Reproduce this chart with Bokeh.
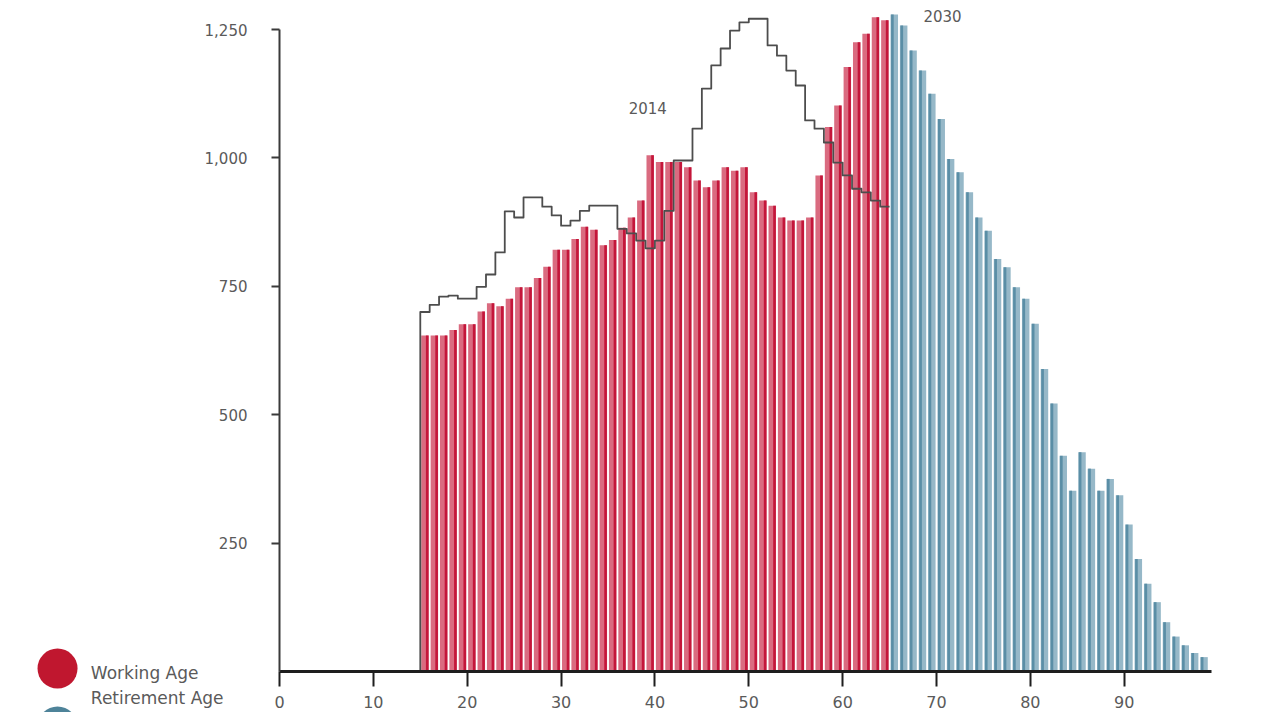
from bokeh.plotting import figure
from bokeh.models import Range1d, FixedTicker, NumeralTickFormatter, ColumnDataSource
from bokeh.core.properties import value
from bokeh.embed import file_html
from bokeh.resources import INLINE

# ---- data (thousands of people by single year of age) ----
ages = list(range(15, 99))
pop_2030 = [654, 654, 654, 665, 676, 676, 701, 717, 711, 726,
            748, 748, 766, 788, 821, 821, 842, 866, 860, 830,
            840, 864, 884, 917, 1005, 992, 992, 992, 982, 956,
            943, 956, 982, 975, 982, 933, 917, 907, 884, 878,
            878, 884, 966, 1060, 1102, 1177, 1225, 1242, 1274, 1268,
            1279, 1258, 1209, 1170, 1125, 1076, 998, 972, 933, 884,
            858, 803, 787, 748, 726, 677, 589, 522, 420, 352,
            427, 395, 352, 375, 343, 286, 219, 171, 135, 96,
            68, 51, 36, 28]
ages_2014 = list(range(15, 65))
pop_2014 = [700, 714, 730, 732, 726, 726, 749, 773, 816, 896,
            884, 923, 923, 905, 888, 868, 878, 897, 907, 907,
            907, 862, 853, 839, 824, 839, 897, 995, 995, 1057,
            1135, 1180, 1213, 1248, 1264, 1271, 1271, 1219, 1199, 1170,
            1141, 1073, 1057, 1030, 991, 966, 940, 933, 917, 905]
retirement_age = 65
x_ticks = [0, 10, 20, 30, 40, 50, 60, 70, 80, 90]
y_ticks = [250, 500, 750, 1000, 1250]
legend_labels = ["Working Age", "Retirement Age"]
year_labels = ["2014", "2030"]

RED_MID, RED_DARK = "#da6b80", "#c4163a"
BLUE_MID, BLUE_DARK = "#96b8c8", "#5a8ea6"
FONT = "DejaVu Sans"
TXT = "#5a5a5a"

p = figure(width=1264, height=712, output_backend="svg", toolbar_location=None,
           x_range=Range1d(-29.725, 104.944), y_range=Range1d(-79.83, 1306.5),
           min_border_left=0, min_border_right=0, min_border_top=0, min_border_bottom=0)
p.outline_line_color = None
p.xgrid.visible = False
p.ygrid.visible = False
p.background_fill_color = "white"
p.border_fill_color = "white"

work = [a for a in ages if a < retirement_age]
retire = [a for a in ages if a >= retirement_age]
work_v = [v for a, v in zip(ages, pop_2030) if a < retirement_age]
retire_v = [v for a, v in zip(ages, pop_2030) if a >= retirement_age]

src_w = ColumnDataSource(dict(x=[a + 0.5 for a in work], s=[a + 0.74 for a in work], top=work_v))
src_r = ColumnDataSource(dict(x=[a + 0.5 for a in retire], s=[a + 0.3 for a in retire], top=retire_v))

p.vbar(x="x", top="top", width=0.8, bottom=0, source=src_w, fill_color=RED_MID, line_color=None)
p.vbar(x="s", top="top", width=0.28, bottom=0, source=src_w, fill_color=RED_DARK, line_color=None)
p.vbar(x="x", top="top", width=0.8, bottom=0, source=src_r, fill_color=BLUE_MID, line_color=None)
p.vbar(x="s", top="top", width=0.28, bottom=0, source=src_r, fill_color=BLUE_DARK, line_color=None)

# 2014 step outline
lx, ly = [ages_2014[0]], [0]
for a, v in zip(ages_2014, pop_2014):
    lx += [a, a + 1]
    ly += [v, v]
p.line(lx, ly, line_color="#4d4d4d", line_width=1.8, line_join="round")

# axes placed at the data origin
xa = p.xaxis[0]
xa.fixed_location = 0
xa.bounds = (0, 99.3)
xa.ticker = FixedTicker(ticks=x_ticks)
xa.axis_line_color = "#1e1e1e"
xa.axis_line_width = 3
xa.major_tick_line_color = "#1e1e1e"
xa.major_tick_line_width = 2
xa.major_tick_out = 15
xa.major_tick_in = 0
xa.minor_tick_line_color = None
xa.major_label_standoff = 9
xa.major_label_text_font = FONT
xa.major_label_text_font_size = "16px"
xa.major_label_text_color = TXT

ya = p.yaxis[0]
ya.fixed_location = 0
ya.ticker = FixedTicker(ticks=y_ticks)
ya.bounds = (0, 1250)
ya.formatter = NumeralTickFormatter(format="0,0")
ya.axis_line_color = "#3a3a3a"
ya.axis_line_width = 2
ya.major_tick_line_color = "#3a3a3a"
ya.major_tick_line_width = 2
ya.major_tick_out = 8
ya.major_tick_in = 0
ya.minor_tick_line_color = None
ya.major_label_standoff = 24
ya.major_label_text_font = FONT
ya.major_label_text_font_size = "15px"
ya.major_label_text_color = TXT

# year labels
p.text(x=[37.2, 68.6], y=[1098, 1277], text=year_labels, text_font=value(FONT),
       text_font_size=value("15px"), text_color=TXT, text_baseline="middle")

# legend (markers and labels, left of the axis)
p.scatter(x=[-23.65, -23.65], y=[5.8, -107], size=40, marker="circle",
          fill_color=["#c0172f", "#4e8399"], line_color=None)
p.text(x=[-20.1, -20.1], y=[-2, -52], text=legend_labels, text_font=value(FONT),
       text_font_size=value("17px"), text_color=TXT, text_baseline="middle")

open("out.html", "w").write(file_html(p, INLINE))
